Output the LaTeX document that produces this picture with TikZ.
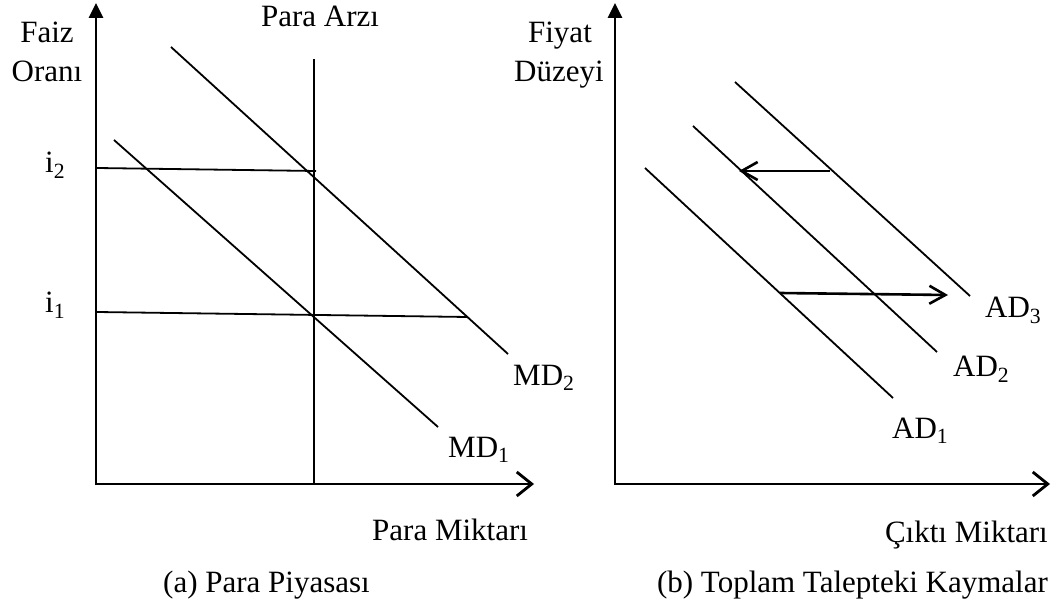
\documentclass[tikz,border=0pt]{standalone}
\usepackage{fontspec}
\setmainfont{Liberation Serif}
\usetikzlibrary{arrows.meta}
\begin{document}
\begin{tikzpicture}[x=1pt,y=-1pt,
  lbl/.style={inner sep=0pt,font=\fontsize{31}{37}\selectfont},
  axis/.style={line width=2.8pt},
  yaxis/.style={axis,-{Triangle[width=14pt,length=15pt]}},
  xaxis/.style={axis,-{Straight Barb[length=15pt,width=24pt,line width=2.8pt]}},
  curve/.style={line width=1.8pt},
  shiftarrow/.style={line width=2.6pt,-{Straight Barb[length=16pt,width=18pt,line width=2.6pt]}}]
\useasboundingbox (0,0) rectangle (1063,612);
% ---- panel (a)
\coordinate (oa) at (96,485);
\coordinate (ya) at (96,3);
\coordinate (xa) at (534,484);
\coordinate (oax) at (95,484);
\draw[yaxis] (oa) -- (ya);
\draw[xaxis] (oax) -- (xa);
\coordinate (ms1) at (314,59);
\coordinate (ms2) at (314,484);
\draw[curve] (ms1) -- (ms2);
\coordinate (i2a) at (97,168);
\coordinate (i2b) at (316,171);
\draw[curve] (i2a) -- (i2b);
\coordinate (i1a) at (97,312);
\coordinate (i1b) at (468,317);
\draw[curve] (i1a) -- (i1b);
\coordinate (md1a) at (114,140);
\coordinate (md1b) at (438,427);
\draw[curve] (md1a) -- (md1b);
\coordinate (md2a) at (171,47);
\coordinate (md2b) at (508,354);
\draw[curve] (md2a) -- (md2b);
\node[lbl,anchor=base] (faiz) at (47,43) {Faiz};
\node[lbl,anchor=base] (oran) at (47,82) {Oranı};
\node[lbl,anchor=base] (arz) at (320,27) {Para Arzı};
\node[lbl,anchor=base west] (i2) at (45,173) {i\textsubscript{2}};
\node[lbl,anchor=base west] (i1) at (45,313) {i\textsubscript{1}};
\node[lbl,anchor=base west] (md2) at (513,385) {MD\textsubscript{2}};
\node[lbl,anchor=base west] (md1) at (448,457) {MD\textsubscript{1}};
\node[lbl,anchor=base west] (pm) at (372,540) {Para Miktarı};
\node[lbl,anchor=base west] (capa) at (163,592) {(a) Para Piyasası};
% ---- panel (b)
\coordinate (ob) at (615,485);
\coordinate (yb) at (615,3);
\coordinate (obx) at (614,484);
\coordinate (xb) at (1050,484);
\draw[yaxis] (ob) -- (yb);
\draw[xaxis] (obx) -- (xb);
\coordinate (ad1a) at (645,168);
\coordinate (ad1b) at (893,398);
\coordinate (ad2a) at (693,126);
\coordinate (ad2b) at (937,352);
\coordinate (ad3a) at (735,82);
\coordinate (ad3b) at (970,296);
\draw[curve] (ad1a) -- (ad1b);
\draw[curve] (ad2a) -- (ad2b);
\draw[curve] (ad3a) -- (ad3b);
\coordinate (la) at (830,171);
\coordinate (lb) at (739,171);
\draw[shiftarrow] (la) -- (lb);
\coordinate (ra) at (780,293);
\coordinate (rb) at (948,295);
\draw[shiftarrow] (ra) -- (rb);
\node[lbl,anchor=base] (fiyat) at (560,43) {Fiyat};
\node[lbl,anchor=base] (duz) at (559,82) {Düzeyi};
\node[lbl,anchor=base west] (ad3) at (985,318) {AD\textsubscript{3}};
\node[lbl,anchor=base west] (ad2) at (953,377) {AD\textsubscript{2}};
\node[lbl,anchor=base west] (ad1) at (892,438) {AD\textsubscript{1}};
\node[lbl,anchor=base east] (cm) at (1048,542) {Çıktı Miktarı};
\node[lbl,anchor=base east] (capb) at (1048,592) {(b) Toplam Talepteki Kaymalar};
\end{tikzpicture}
\end{document}
